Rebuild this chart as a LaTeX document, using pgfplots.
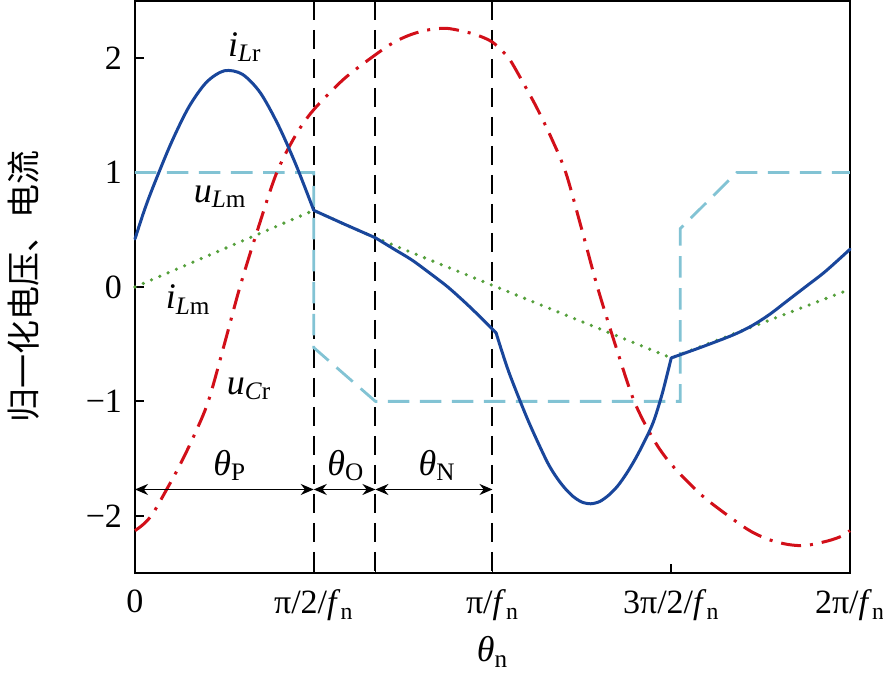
\documentclass[border=0pt]{standalone}
\usepackage{fontspec}
\setmainfont{Liberation Serif}
\newfontfamily\cjk{Noto Sans CJK SC}
\usepackage{pgfplots}
\pgfplotsset{compat=1.18}
\usetikzlibrary{arrows.meta}

\definecolor{cblue}{RGB}{25,70,155}
\definecolor{cred}{RGB}{210,15,25}
\definecolor{clight}{RGB}{130,195,212}
\definecolor{cgreen}{RGB}{85,160,60}

\newcommand{\fn}{\textit{f}\textsubscript{n}}

\begin{document}
\begin{tikzpicture}
\begin{axis}[
  scale only axis, width=357.5pt, height=286pt,
  xmin=0, xmax=4, ymin=-2.5, ymax=2.5,
  xtick={0,1,1.345,2,3,4},
  xticklabels={0, {π/2/\fn}, {}, {π/\fn}, {3π/2/\fn}, {2π/\fn}},
  ytick={-2,-1,0,1,2}, yticklabels={−2,−1,0,1,2},
  tick align=inside, tick pos=left, major tick length=4.5pt,
  axis line style={line width=0.9pt},
  every tick/.style={black, line width=0.9pt},
  ticklabel style={font=\fontsize{17}{20}\selectfont},
  xticklabel style={yshift=-5pt},
  yticklabel style={xshift=-3pt},
  xlabel={\textit{θ}\textsubscript{n}},
  ylabel={\cjk 归一化电压、电流},
  xlabel style={at={(axis description cs:0.5,-0.1381)}, anchor=center, font=\fontsize{18}{20}\selectfont},
  ylabel style={at={(axis description cs:-0.1552,0.5)}, anchor=center, font=\fontsize{17}{20}\selectfont},
  clip=false,
]
% phase boundaries
\addplot[black, line width=1pt, dash pattern=on 9.5pt off 5pt] coordinates {(1,2.5) (1,-2.5)};
\addplot[black, line width=1pt, dash pattern=on 9.5pt off 5pt] coordinates {(1.345,2.5) (1.345,-2.5)};
\addplot[black, line width=1pt, dash pattern=on 9.5pt off 5pt] coordinates {(2,2.5) (2,-2.5)};

% u_Lm
\addplot[clight, line width=1.4pt, dash pattern=on 10.75pt off 5.25pt] coordinates {
(0,1) (1.0,1) (1.0,-0.53) (1.345,-1) (3.05,-1) (3.05,0.51) (3.366,1) (4,1)};

% i_Lm
\addplot[cgreen, line width=1.8pt, line cap=round, dash pattern=on 0pt off 4.5pt] coordinates {
(0,0) (1.0,0.67) (1.17,0.55) (1.345,0.43) (3.0,-0.62) (4.0,-0.02)};

% u_Cr
\addplot[cred, line width=1.5pt, smooth, dash pattern=on 10pt off 4.5pt on 1.5pt off 4.5pt] coordinates {
(0,-2.13) (0.05,-2.07) (0.1,-1.98) (0.177,-1.77) (0.25,-1.56) (0.33,-1.30) (0.41,-1.00)
(0.5,-0.50) (0.587,0.00) (0.69,0.52) (0.793,1.00) (0.9,1.33) (1.0,1.55) (1.17,1.82)
(1.345,2.03) (1.45,2.14) (1.55,2.21) (1.65,2.25) (1.75,2.26) (1.875,2.22) (1.95,2.18)
(2.0,2.14) (2.05,2.07) (2.1,1.98) (2.177,1.77) (2.25,1.56) (2.33,1.30) (2.41,1.00)
(2.5,0.50) (2.587,0.00) (2.69,-0.52) (2.793,-1.00) (2.9,-1.33) (3.0,-1.55) (3.17,-1.82)
(3.345,-2.03) (3.45,-2.14) (3.55,-2.21) (3.65,-2.25) (3.75,-2.26) (3.875,-2.22) (3.95,-2.18)
(4.0,-2.13)};

% i_Lr
\addplot[cblue, line width=1.5pt, smooth, line cap=round] coordinates {
(0,0.42) (0.05,0.66) (0.1,0.87) (0.2,1.25) (0.3,1.57) (0.4,1.79) (0.5,1.89) (0.6,1.86)
(0.7,1.70) (0.8,1.42) (0.9,1.07) (1.0,0.67)};
\addplot[cblue, line width=1.5pt, line cap=round] coordinates {(1.0,0.67) (1.17,0.55) (1.345,0.43)};
\addplot[cblue, line width=1.5pt, smooth, line cap=round] coordinates {
(1.345,0.43) (1.45,0.33) (1.55,0.235) (1.65,0.12) (1.75,0.00) (1.85,-0.14) (1.93,-0.26) (2.02,-0.40)};
\addplot[cblue, line width=1.5pt, smooth, line cap=round] coordinates {
(2.02,-0.40) (2.05,-0.55) (2.1,-0.78) (2.2,-1.17) (2.3,-1.51) (2.35,-1.645) (2.4,-1.75)
(2.45,-1.83) (2.5,-1.88) (2.55,-1.895) (2.6,-1.875) (2.65,-1.82) (2.7,-1.74) (2.75,-1.63)
(2.8,-1.50) (2.85,-1.35) (2.9,-1.18) (2.95,-0.93) (3.0,-0.62)};
\addplot[cblue, line width=1.5pt, smooth, line cap=round] coordinates {
(3.0,-0.62) (3.17,-0.525) (3.345,-0.42) (3.45,-0.34) (3.55,-0.24) (3.65,-0.12) (3.75,0.00)
(3.85,0.12) (3.93,0.23) (4.0,0.33)};

% interval arrows
\draw[{Stealth[length=6.5pt,width=5.5pt]}-{Stealth[length=6.5pt,width=5.5pt]}, line width=0.8pt] (axis cs:0,-1.77) -- (axis cs:1,-1.77);
\draw[{Stealth[length=6.5pt,width=5.5pt]}-{Stealth[length=6.5pt,width=5.5pt]}, line width=0.8pt] (axis cs:1,-1.77) -- (axis cs:1.345,-1.77);
\draw[{Stealth[length=6.5pt,width=5.5pt]}-{Stealth[length=6.5pt,width=5.5pt]}, line width=0.8pt] (axis cs:1.345,-1.77) -- (axis cs:2,-1.77);

\begin{scope}[every node/.style={font=\fontsize{18}{20}\selectfont, inner sep=0pt}]
\node at (axis cs:0.615,2.10) {\textit{i}\textsubscript{\textit{L}r}};
\node at (axis cs:0.476,0.79) {\textit{u}\textsubscript{\textit{L}m}};
\node at (axis cs:0.297,-0.11) {\textit{i}\textsubscript{\textit{L}m}};
\node at (axis cs:0.638,-0.89) {\textit{u}\textsubscript{\textit{C}r}};
\node at (axis cs:0.53,-1.56) {\textit{θ}\textsubscript{P}};
\node at (axis cs:1.18,-1.56) {\textit{θ}\textsubscript{O}};
\node at (axis cs:1.69,-1.56) {\textit{θ}\textsubscript{N}};
\end{scope}
\end{axis}
\pgfresetboundingbox
\path[use as bounding box] ([shift={(-67.5pt,-54pt)}]current axis.south west) rectangle ([shift={(16.5pt,0.5pt)}]current axis.north east);
\end{tikzpicture}
\end{document}
